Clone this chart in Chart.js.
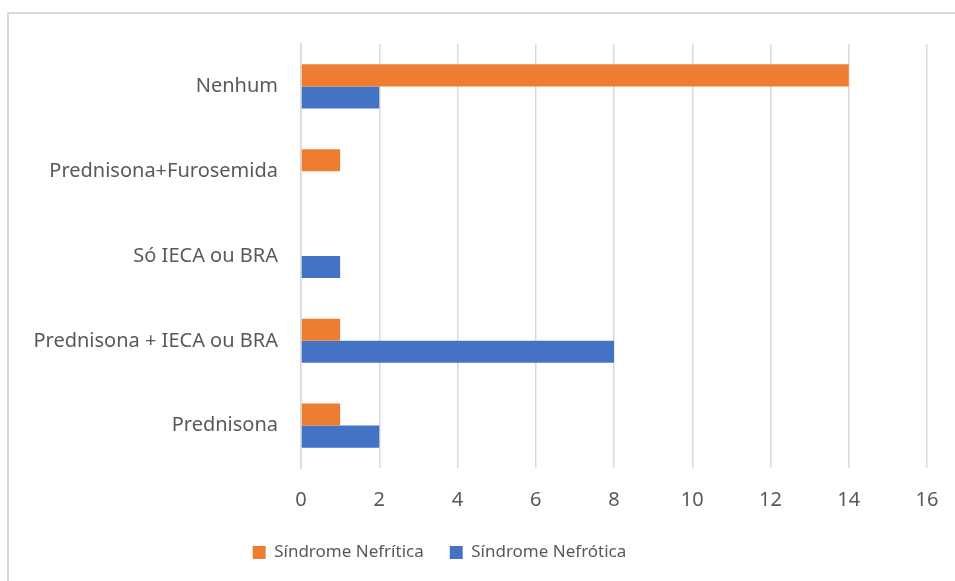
<!DOCTYPE html>
<html>
<head>
<meta charset="utf-8">
<script src="https://cdn.jsdelivr.net/npm/chart.js@4/dist/chart.umd.min.js"></script>
<style>
  body { margin: 0; background: #fff; }
  #frame { position: absolute; left: 7px; top: 12px; width: 1000px; height: 600px; border: 2px solid #d9d9d9; }
  #wrap { position: absolute; left: 0; top: 0; width: 955px; height: 581px; }
</style>
</head>
<body>
<div id="frame"></div>
<div id="wrap"><canvas id="chart"></canvas></div>
<script>
// categories top to bottom
const categories = ['Nenhum', 'Prednisona+Furosemida', 'Só IECA ou BRA', 'Prednisona + IECA ou BRA', 'Prednisona']
const nefritica = [14, 1, 0, 1, 1]
const nefrotica = [2, 0, 1, 8, 2]
const xTicks = [0, 2, 4, 6, 8, 10, 12, 14, 16]

const font = { family: 'Noto Sans', size: 20 }

// legend sits a bit left of centre and a bit lower in the original
const legendShift = {
    id: 'legendShift',
    afterLayout(chart) {
        chart.legend.left -= 24
        chart.legend.right -= 24
        chart.legend.top += 4
        chart.legend.bottom += 4
    }
}

const data = {
    labels: categories,
    datasets: [{
            label: 'Síndrome Nefrítica',
            data: nefritica,
            backgroundColor: '#ed7d31',
            categoryPercentage: 0.52,
            barPercentage: 1
        }, {
            label: 'Síndrome Nefrótica',
            data: nefrotica,
            backgroundColor: '#4472c4',
            categoryPercentage: 0.52,
            barPercentage: 1
        }]
}

const config = {
    type: 'bar',
    data: data,
    plugins: [legendShift],
    options: {
        indexAxis: 'y',
        responsive: true,
        maintainAspectRatio: false,
        animation: false,
        layout: { padding: { top: 44, right: 28, left: 0, bottom: 14 } },
        scales: {
            x: {
                min: 0,
                max: 16,
                afterBuildTicks: (scale) => { scale.ticks = xTicks.map(v => ({ value: v })) },
                afterFit: (scale) => {
                    scale.height = 46
                    scale.paddingLeft = 0
                    scale.paddingRight = 0
                },
                grid: { color: '#d9d9d9', lineWidth: 1.5, drawTicks: false },
                border: { display: false },
                ticks: { color: '#595959', font: font, padding: 20 }
            },
            y: {
                afterFit: (scale) => { scale.width = 301 },
                grid: { display: false },
                border: { color: '#d9d9d9', width: 1.5 },
                ticks: { color: '#595959', font: font, padding: 15 }
            }
        },
        plugins: {
            legend: {
                position: 'bottom',
                labels: { color: '#595959', font: { family: 'Noto Sans', size: 17 }, boxWidth: 13, boxHeight: 13, padding: 26 }
            },
            tooltip: { enabled: false }
        }
    }
}

let ctx = document.getElementById('chart').getContext('2d')
new Chart(ctx, config)
</script>
</body>
</html>
